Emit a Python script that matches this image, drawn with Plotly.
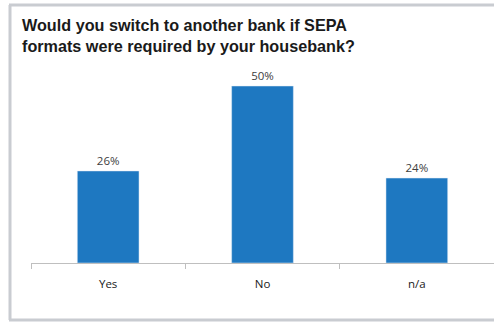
import plotly.graph_objects as go

categories = ["Yes", "No", "n/a"]
values = [26, 50, 24]
title_text = "Would you switch to another bank if SEPA<br>formats were required by your housebank?"

W, H = 494, 322
L, R, T, B = 31, 0, 60, 59
pw = W - L - R
ph = H - T - B

def px_x(p):
    return (p - L) / pw

def px_y(p):
    return (H - B - p) / ph

fig = go.Figure()
fig.add_trace(go.Bar(
    x=categories, y=values, marker_color="#1e78c1", width=0.4,
    text=[f"{v}%" for v in values], textposition="outside",
    textfont=dict(family="Open Sans, Liberation Sans, sans-serif", size=11.5, color="#404040"),
    cliponaxis=False, hoverinfo="skip",
))

border = "#c9ccd1"
shapes = [
    dict(type="line", xref="paper", yref="paper", x0=px_x(10), x1=px_x(10), y0=px_y(5), y1=px_y(320),
         line=dict(color=border, width=3)),
    dict(type="line", xref="paper", yref="paper", x0=px_x(9), x1=px_x(494), y0=px_y(5), y1=px_y(5),
         line=dict(color=border, width=3)),
    dict(type="line", xref="paper", yref="paper", x0=px_x(9), x1=px_x(494), y0=px_y(320), y1=px_y(320),
         line=dict(color=border, width=3)),
]

fig.update_layout(
    width=W, height=H, margin=dict(l=L, r=R, t=T, b=B),
    paper_bgcolor="white", plot_bgcolor="white",
    showlegend=False, shapes=shapes,
    annotations=[dict(text="<b>" + title_text + "</b>", xref="paper", yref="paper",
                      x=px_x(20), y=px_y(14), xanchor="left", yanchor="top", align="left",
                      showarrow=False,
                      font=dict(family="Liberation Sans, Arial, sans-serif", size=16.2, color="#1a1a1a"))],
    xaxis=dict(showline=True, linecolor="#bfbfbf", linewidth=1, ticks="outside", tickson="boundaries",
               ticklen=5, tickcolor="#bfbfbf", showgrid=False,
               tickfont=dict(family="Open Sans, Liberation Sans, sans-serif", size=11.5, color="#1a1a1a"),
               ticklabelstandoff=10),
    yaxis=dict(visible=False, range=[0, 50 * ph / 177]),
)

fig.write_html("out.html", config={"displayModeBar": False},
               post_script="document.body.style.margin='0';document.body.style.overflow='hidden';")
